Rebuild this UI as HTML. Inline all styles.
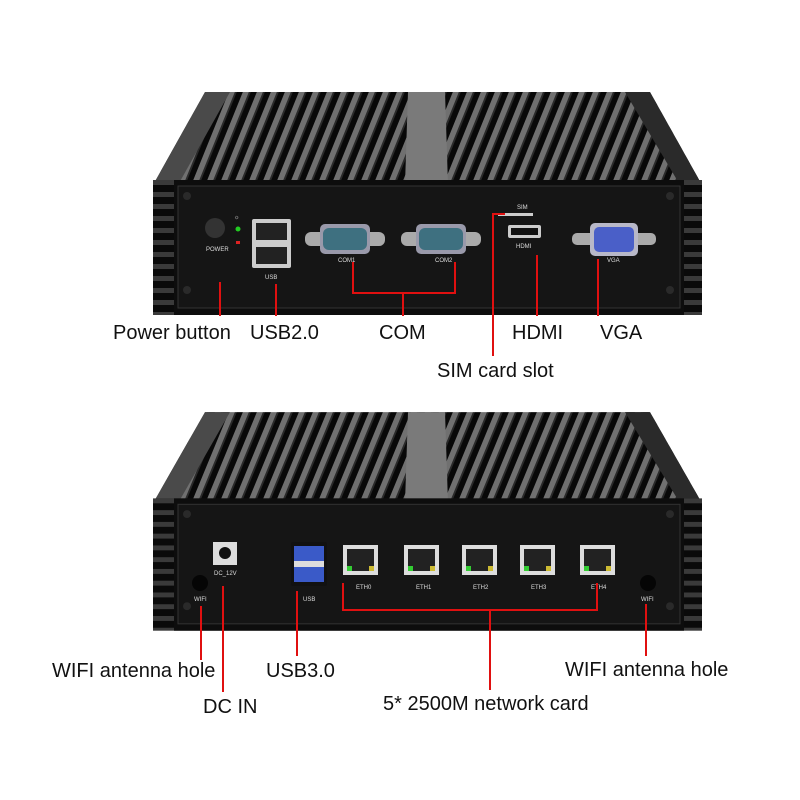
<!DOCTYPE html>
<html><head><meta charset="utf-8"><style>
body{margin:0;background:#fff;}
svg{display:block;}
text{font-family:"Liberation Sans",sans-serif;}
.lbl{font-size:20px;fill:#111;}
.sm{font-size:6px;fill:#ddd;}
.r{stroke:#e01010;stroke-width:2;fill:none;}
</style></head><body>
<svg width="800" height="800" viewBox="0 0 800 800">
<defs>
<pattern id="fins" width="14" height="200" patternUnits="userSpaceOnUse" patternTransform="skewX(-22)">
<rect width="14" height="200" fill="#080808"/>
<rect x="0" width="6" height="200" fill="#707070"/>
<rect x="6" width="2" height="200" fill="#2a2a2a"/>
</pattern>
<pattern id="side" width="20" height="12" patternUnits="userSpaceOnUse">
<rect width="20" height="12" fill="#0a0a0a"/>
<rect y="0" width="20" height="5" fill="#3a3a3a"/>
</pattern>
<g id="body">
<polygon points="205,92 650,92 702,185 153,185" fill="url(#fins)"/>
<polygon points="408,92 445,92 448,185 405,185" fill="#7a7a7a"/>
<polygon points="205,92 230,92 178,185 153,185" fill="#4a4a4a"/>
<polygon points="625,92 650,92 702,185 680,185" fill="#2a2a2a"/>
<rect x="153" y="180" width="549" height="135" fill="url(#side)"/>
<rect x="174" y="180" width="510" height="135" fill="#0d0d0d"/>
<rect x="178" y="186" width="502" height="122" fill="#151515" stroke="#333" stroke-width="1"/>
<circle cx="187" cy="196" r="4" fill="#2a2a2a"/><circle cx="670" cy="196" r="4" fill="#2a2a2a"/>
<circle cx="187" cy="290" r="4" fill="#2a2a2a"/><circle cx="670" cy="290" r="4" fill="#2a2a2a"/>
</g>
</defs>

<use href="#body"/>
<circle cx="215" cy="228" r="10" fill="#333"/>
<text x="206" y="251" class="sm">POWER</text>
<circle cx="238" cy="229" r="2.5" fill="#2c2"/>
<rect x="236" y="241" width="4" height="3" fill="#d22"/>
<text x="234" y="219" class="sm">☼</text>
<rect x="252" y="219" width="39" height="49" rx="2" fill="#ccc"/>
<rect x="256" y="223" width="31" height="17" fill="#222"/>
<rect x="256" y="247" width="31" height="17" fill="#222"/>
<text x="265" y="279" class="sm">USB</text>
<g>
<rect x="305" y="232" width="80" height="14" rx="6" fill="#aaa"/>
<rect x="320" y="224" width="50" height="30" rx="5" fill="#99a"/>
<rect x="323" y="228" width="44" height="22" rx="6" fill="#3e7080"/>
<text x="338" y="262" class="sm">COM1</text>
<rect x="401" y="232" width="80" height="14" rx="6" fill="#aaa"/>
<rect x="416" y="224" width="50" height="30" rx="5" fill="#99a"/>
<rect x="419" y="228" width="44" height="22" rx="6" fill="#3e7080"/>
<text x="435" y="262" class="sm">COM2</text>
</g>
<text x="517" y="209" class="sm">SIM</text>
<rect x="498" y="213" width="35" height="3" fill="#ccc"/>
<rect x="508" y="225" width="33" height="13" rx="2" fill="#ccc"/>
<rect x="511" y="228" width="27" height="7" fill="#111"/>
<text x="516" y="248" class="sm">HDMI</text>
<rect x="572" y="233" width="84" height="12" rx="5" fill="#aaa"/>
<rect x="590" y="223" width="48" height="33" rx="5" fill="#b8b8c8"/>
<rect x="594" y="227" width="40" height="25" rx="5" fill="#4a5fc8"/>
<text x="607" y="262" class="sm">VGA</text>

<path class="r" d="M220,282V316 M276,284V316 M353,262V293H455V262 M403,293V316 M505,214H493V356 M537,255V316 M598,259V316"/>
<text x="113" y="339" class="lbl">Power button</text>
<text x="250" y="339" class="lbl">USB2.0</text>
<text x="379" y="339" class="lbl">COM</text>
<text x="512" y="339" class="lbl">HDMI</text>
<text x="600" y="339" class="lbl">VGA</text>
<text x="437" y="377" class="lbl">SIM card slot</text>

<g transform="translate(0,322) scale(1,0.98)"><use href="#body"/></g>
<circle cx="200" cy="583" r="8" fill="#050505"/>
<text x="194" y="601" class="sm">WIFI</text>
<rect x="213" y="542" width="24" height="23" fill="#ddd"/>
<circle cx="225" cy="553" r="6" fill="#111"/>
<text x="214" y="575" class="sm">DC_12V</text>
<rect x="291" y="542" width="36" height="44" rx="2" fill="#111"/>
<rect x="294" y="546" width="30" height="16" fill="#3a5ac8"/>
<rect x="294" y="566" width="30" height="16" fill="#3a5ac8"/>
<rect x="294" y="561" width="30" height="6" fill="#ddd"/>
<text x="303" y="601" class="sm">USB</text>
<g>
<rect x="343" y="545" width="35" height="30" fill="#ddd"/><rect x="347" y="549" width="27" height="22" fill="#222"/><rect x="347" y="566" width="5" height="5" fill="#3c3"/><rect x="369" y="566" width="5" height="5" fill="#cb3"/>
<rect x="404" y="545" width="35" height="30" fill="#ddd"/><rect x="408" y="549" width="27" height="22" fill="#222"/><rect x="408" y="566" width="5" height="5" fill="#3c3"/><rect x="430" y="566" width="5" height="5" fill="#cb3"/>
<rect x="462" y="545" width="35" height="30" fill="#ddd"/><rect x="466" y="549" width="27" height="22" fill="#222"/><rect x="466" y="566" width="5" height="5" fill="#3c3"/><rect x="488" y="566" width="5" height="5" fill="#cb3"/>
<rect x="520" y="545" width="35" height="30" fill="#ddd"/><rect x="524" y="549" width="27" height="22" fill="#222"/><rect x="524" y="566" width="5" height="5" fill="#3c3"/><rect x="546" y="566" width="5" height="5" fill="#cb3"/>
<rect x="580" y="545" width="35" height="30" fill="#ddd"/><rect x="584" y="549" width="27" height="22" fill="#222"/><rect x="584" y="566" width="5" height="5" fill="#3c3"/><rect x="606" y="566" width="5" height="5" fill="#cb3"/>
<text x="356" y="589" class="sm">ETH0</text><text x="416" y="589" class="sm">ETH1</text><text x="473" y="589" class="sm">ETH2</text><text x="531" y="589" class="sm">ETH3</text><text x="591" y="589" class="sm">ETH4</text>
</g>
<circle cx="648" cy="583" r="8" fill="#050505"/>
<text x="641" y="601" class="sm">WIFI</text>

<path class="r" d="M201,606V660 M223,586V692 M297,591V656 M343,583V610H597V583 M490,610V690 M646,604V656"/>
<text x="52" y="677" class="lbl">WIFI antenna hole</text>
<text x="266" y="677" class="lbl">USB3.0</text>
<text x="565" y="676" class="lbl">WIFI antenna hole</text>
<text x="203" y="713" class="lbl">DC IN</text>
<text x="383" y="710" class="lbl">5* 2500M network card</text>
</svg>
</body></html>
